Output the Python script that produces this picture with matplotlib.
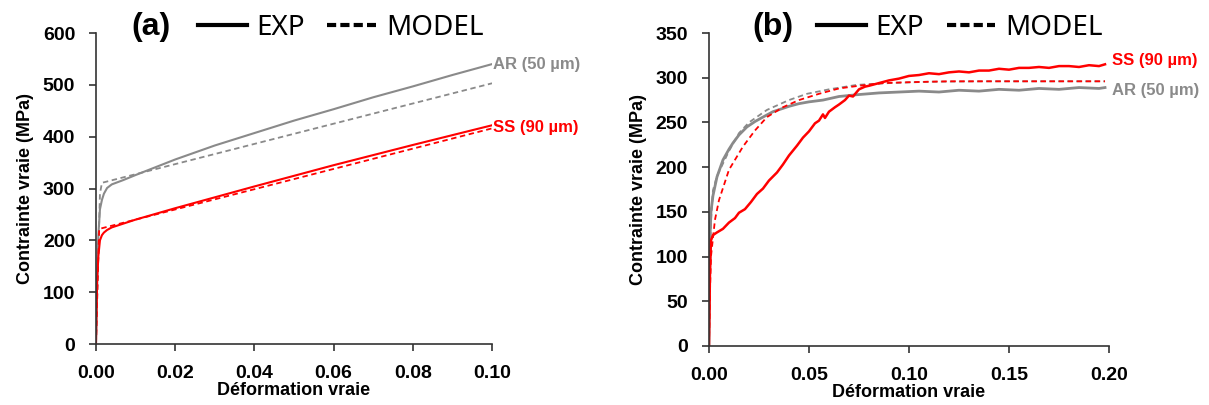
import matplotlib
matplotlib.use("Agg")
import matplotlib.pyplot as plt
from matplotlib.lines import Line2D

plt.rcParams['font.family'] = ['Liberation Sans', 'DejaVu Sans']

GRAY = '#8a8a8a'
RED = '#ff0000'

# ---- panel (a) data ----
a_ar_exp_x = [0, 0.0003, 0.0006, 0.001, 0.0015, 0.002, 0.0028, 0.004, 0.0068, 0.01, 0.015,
              0.02, 0.03, 0.04, 0.05, 0.06, 0.07, 0.08, 0.09, 0.10]
a_ar_exp_y = [0, 130, 210, 260, 278, 290, 301, 308, 316, 326, 341,
              356, 383, 407, 431, 453, 476, 497, 519, 540]
a_ar_mod_x = [0, 0.0005, 0.001, 0.0015, 0.10]
a_ar_mod_y = [0, 150, 290, 311, 503]
a_ss_exp_x = [0, 0.0003, 0.0006, 0.001, 0.0015, 0.002, 0.0028, 0.004, 0.006, 0.01, 0.02, 0.04, 0.06, 0.08, 0.10]
a_ss_exp_y = [0, 124, 170, 200, 210, 215, 220, 225, 230, 240, 262, 304, 345, 384, 422]
a_ss_mod_x = [0, 0.0004, 0.0008, 0.10]
a_ss_mod_y = [0, 120, 222, 416]

# ---- panel (b) data ----
b_ss_exp_x = [0, 0.0005, 0.001, 0.002, 0.004, 0.007, 0.010, 0.013, 0.015, 0.018, 0.021, 0.024,
              0.027, 0.030, 0.034, 0.037, 0.040, 0.044, 0.047, 0.050, 0.053, 0.055, 0.057, 0.058,
              0.060, 0.063, 0.065, 0.068, 0.070, 0.072, 0.075, 0.078, 0.080, 0.085, 0.090, 0.095,
              0.100, 0.105, 0.110, 0.115, 0.120, 0.125, 0.130, 0.135, 0.140, 0.145, 0.150, 0.155,
              0.160, 0.165, 0.170, 0.175, 0.180, 0.185, 0.190, 0.195, 0.198]
b_ss_exp_y = [0, 80, 118, 124, 127, 131, 138, 143, 149, 153, 161, 170,
              176, 185, 194, 203, 213, 224, 233, 240, 249, 252, 259, 255,
              262, 267, 270, 275, 280, 279, 287, 290, 291, 294, 297, 299,
              302, 303, 305, 304, 306, 307, 306, 308, 308, 310, 309, 311,
              311, 312, 311, 313, 313, 312, 314, 313, 315]
b_ar_exp_x = [0, 0.0005, 0.001, 0.002, 0.004, 0.007, 0.010, 0.012, 0.015, 0.019, 0.023, 0.027,
              0.032, 0.036, 0.040, 0.045, 0.050, 0.057, 0.065, 0.074, 0.085, 0.095, 0.105, 0.115,
              0.125, 0.135, 0.145, 0.155, 0.165, 0.175, 0.185, 0.195, 0.198]
b_ar_exp_y = [0, 120, 150, 168, 189, 208, 220, 227, 236, 245, 251, 256,
              262, 265, 268, 271, 273, 275, 279, 281, 283, 284, 285, 284,
              286, 285, 287, 286, 288, 287, 289, 288, 289]
b_ar_mod_x = [0, 0.0005, 0.001, 0.002, 0.004, 0.007, 0.010, 0.015, 0.020, 0.029, 0.040, 0.049,
              0.060, 0.074, 0.090, 0.110, 0.140, 0.170, 0.198]
b_ar_mod_y = [0, 90, 140, 174, 190, 204, 218, 238, 250, 264, 275, 282,
              287, 292, 294, 295.5, 296, 296, 296]
b_ss_mod_x = [0, 0.0005, 0.001, 0.003, 0.005, 0.010, 0.017, 0.023, 0.029, 0.037, 0.045, 0.055,
              0.065, 0.075, 0.087, 0.100, 0.120, 0.150, 0.198]
b_ss_mod_y = [0, 60, 100, 141, 163, 197, 223, 241, 256, 267, 275, 282,
              288, 291, 294, 295, 296, 296, 296]

fig = plt.figure(figsize=(12.09, 4.05), dpi=100)
ax_a = fig.add_axes([0.0794, 0.1506, 0.3276, 0.7679])
ax_b = fig.add_axes([0.5864, 0.1457, 0.3309, 0.7728])

# panel (a)
ax_a.plot(a_ar_exp_x, a_ar_exp_y, color=GRAY, lw=1.5)
ax_a.plot(a_ar_mod_x, a_ar_mod_y, color=GRAY, lw=1.3, ls=(0, (3, 2)))
ax_a.plot(a_ss_exp_x, a_ss_exp_y, color=RED, lw=1.5)
ax_a.plot(a_ss_mod_x, a_ss_mod_y, color=RED, lw=1.3, ls=(0, (3, 2)))
ax_a.set_xlim(0, 0.10)
ax_a.set_ylim(0, 600)
ax_a.set_xticks([0, 0.02, 0.04, 0.06, 0.08, 0.10])
ax_a.set_xticklabels(['0.00', '0.02', '0.04', '0.06', '0.08', '0.10'])
ax_a.set_yticks(range(0, 601, 100))
ax_a.text(0.1003, 540, 'AR (50 µm)', color=GRAY, fontsize=12, fontweight='bold', va='center')
ax_a.text(0.1003, 418, 'SS (90 µm)', color=RED, fontsize=12, fontweight='bold', va='center')

# panel (b)
ax_b.plot(b_ar_exp_x, b_ar_exp_y, color=GRAY, lw=2)
ax_b.plot(b_ar_mod_x, b_ar_mod_y, color=GRAY, lw=1.3, ls=(0, (3, 2)))
ax_b.plot(b_ss_exp_x, b_ss_exp_y, color=RED, lw=1.8)
ax_b.plot(b_ss_mod_x, b_ss_mod_y, color=RED, lw=1.3, ls=(0, (3, 2)))
ax_b.set_xlim(0, 0.20)
ax_b.set_ylim(0, 350)
ax_b.set_xticks([0, 0.05, 0.10, 0.15, 0.20])
ax_b.set_xticklabels(['0.00', '0.05', '0.10', '0.15', '0.20'])
ax_b.set_yticks(range(0, 351, 50))
ax_b.text(0.2015, 319, 'SS (90 µm)', color=RED, fontsize=12, fontweight='bold', va='center')
ax_b.text(0.2015, 286, 'AR (50 µm)', color=GRAY, fontsize=12, fontweight='bold', va='center')

for ax in (ax_a, ax_b):
    ax.spines['top'].set_visible(False)
    ax.spines['right'].set_visible(False)
    for s in ('left', 'bottom'):
        ax.spines[s].set_linewidth(1.2)
        ax.spines[s].set_color('#333333')
    ax.tick_params(direction='out', length=5, width=1.2, color='#333333',
                   labelsize=14, pad=10)
    for lab in ax.get_xticklabels() + ax.get_yticklabels():
        lab.set_fontweight('bold')
    ax.set_xlabel('Déformation vraie', fontsize=13, fontweight='bold', labelpad=0)
    ax.set_ylabel('Contrainte vraie (MPa)', fontsize=13, fontweight='bold', labelpad=6)

handles = [Line2D([], [], color='black', lw=3),
           Line2D([], [], color='black', lw=3, ls=(0, (2.2, 1.0)))]
leg_style = dict(ncol=2, frameon=False, loc='center left',
                 prop={'family': 'Noto Sans', 'size': 20},
                 handlelength=1.75, columnspacing=0.8, handletextpad=0.36,
                 borderpad=0, borderaxespad=0)
fig.text(0.109, 0.934, '(a)', fontsize=23, fontweight='bold', ha='left', va='center')
fig.legend(handles, ['EXP', 'MODEL'], bbox_to_anchor=(0.1638, 0.932), **leg_style)
fig.text(0.622, 0.934, '(b)', fontsize=23, fontweight='bold', ha='left', va='center')
fig.legend(handles, ['EXP', 'MODEL'], bbox_to_anchor=(0.6758, 0.932), **leg_style)

fig.savefig('out.png', dpi=100)
